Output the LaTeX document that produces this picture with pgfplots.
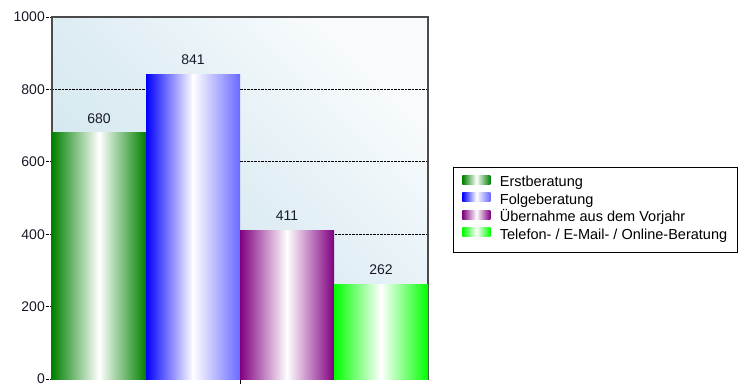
\documentclass[border=0pt]{standalone}
\usepackage{pgfplots}
\pgfplotsset{compat=1.18}
\usepackage{fontspec}
\setmainfont{Liberation Sans}
\definecolor{cErst}{RGB}{0,128,0}
\definecolor{cFolge}{RGB}{0,0,255}
\definecolor{cFolgeR}{RGB}{105,105,255}
\definecolor{cUeber}{RGB}{128,0,128}
\definecolor{cTel}{RGB}{0,255,0}
\definecolor{bgD}{RGB}{206,228,236}
\definecolor{bgM}{RGB}{222,237,243}
\definecolor{bgL}{RGB}{248,251,253}
\definecolor{frame}{RGB}{75,75,75}
\definecolor{txt}{RGB}{25,25,40}
\tikzset{
  sErst/.style={left color=cErst, right color=cErst, middle color=white},
  sFolge/.style={left color=cFolge, right color=cFolgeR, middle color=white},
  sUeber/.style={left color=cUeber, right color=cUeber, middle color=white},
  sTel/.style={left color=cTel, right color=cTel, middle color=white},
}
\newcommand{\fs}{\fontsize{14}{16}\selectfont}
\newcommand{\fl}{\fontsize{14.5}{16}\selectfont}
\begin{document}
\begin{tikzpicture}
\path[use as bounding box] (0pt,0pt) rectangle (744pt,383pt);
\begin{axis}[
  at={(52pt,4pt)}, anchor=south west,
  scale only axis, width=376pt, height=362pt,
  xmin=-2, xmax=2, ymin=0, ymax=1000,
  xtick={0}, xticklabels={},
  ytick={0,200,400,600,800,1000},
  tick pos=left, tick align=outside,
  major tick length=6pt,
  xtick style={solid, black, line width=0.8pt},
  ytick style={densely dotted, black, line width=0.7pt},
  ymajorgrids,
  grid style={densely dotted, black, line width=0.7pt},
  axis line style={draw=frame, line width=1.2pt},
  axis background/.style={top color=bgL, bottom color=bgD, middle color=bgM, shading angle=-45},
  /pgf/number format/assume math mode=true,
  /pgf/number format/1000 sep={},
  yticklabel style={font=\fs, text=txt, inner sep=1pt},
  ybar, bar width=1, bar shift=0pt,
  nodes near coords,
  every node near coord/.append style={font=\fs, text=txt, yshift=6pt},
  legend cell align=left,
  legend style={at={(1.0665,0.5856)}, anchor=north west, font=\fl,
    draw=black, line width=0.8pt, inner xsep=9pt, inner ysep=8pt,
    row sep=1.5pt, column sep=8pt,
    nodes={inner sep=1.5pt, text height=10pt, text depth=3pt}},
]
\addplot[draw=none, sErst, legend image code/.code={\path[sErst] (0pt,-1pt) rectangle (28pt,8pt);}] coordinates {(-1.5,680)};
\addplot[draw=none, sFolge, legend image code/.code={\path[sFolge] (0pt,-1pt) rectangle (28pt,8pt);}] coordinates {(-0.5,841)};
\addplot[draw=none, sUeber, legend image code/.code={\path[sUeber] (0pt,-1pt) rectangle (28pt,8pt);}] coordinates {(0.5,411)};
\addplot[draw=none, sTel, legend image code/.code={\path[sTel] (0pt,-1pt) rectangle (28pt,8pt);}] coordinates {(1.5,262)};
\legend{Erstberatung, Folgeberatung, Übernahme aus dem Vorjahr, Telefon- / E-Mail- / Online-Beratung\hspace{24pt}}
\end{axis}
\end{tikzpicture}
\end{document}
